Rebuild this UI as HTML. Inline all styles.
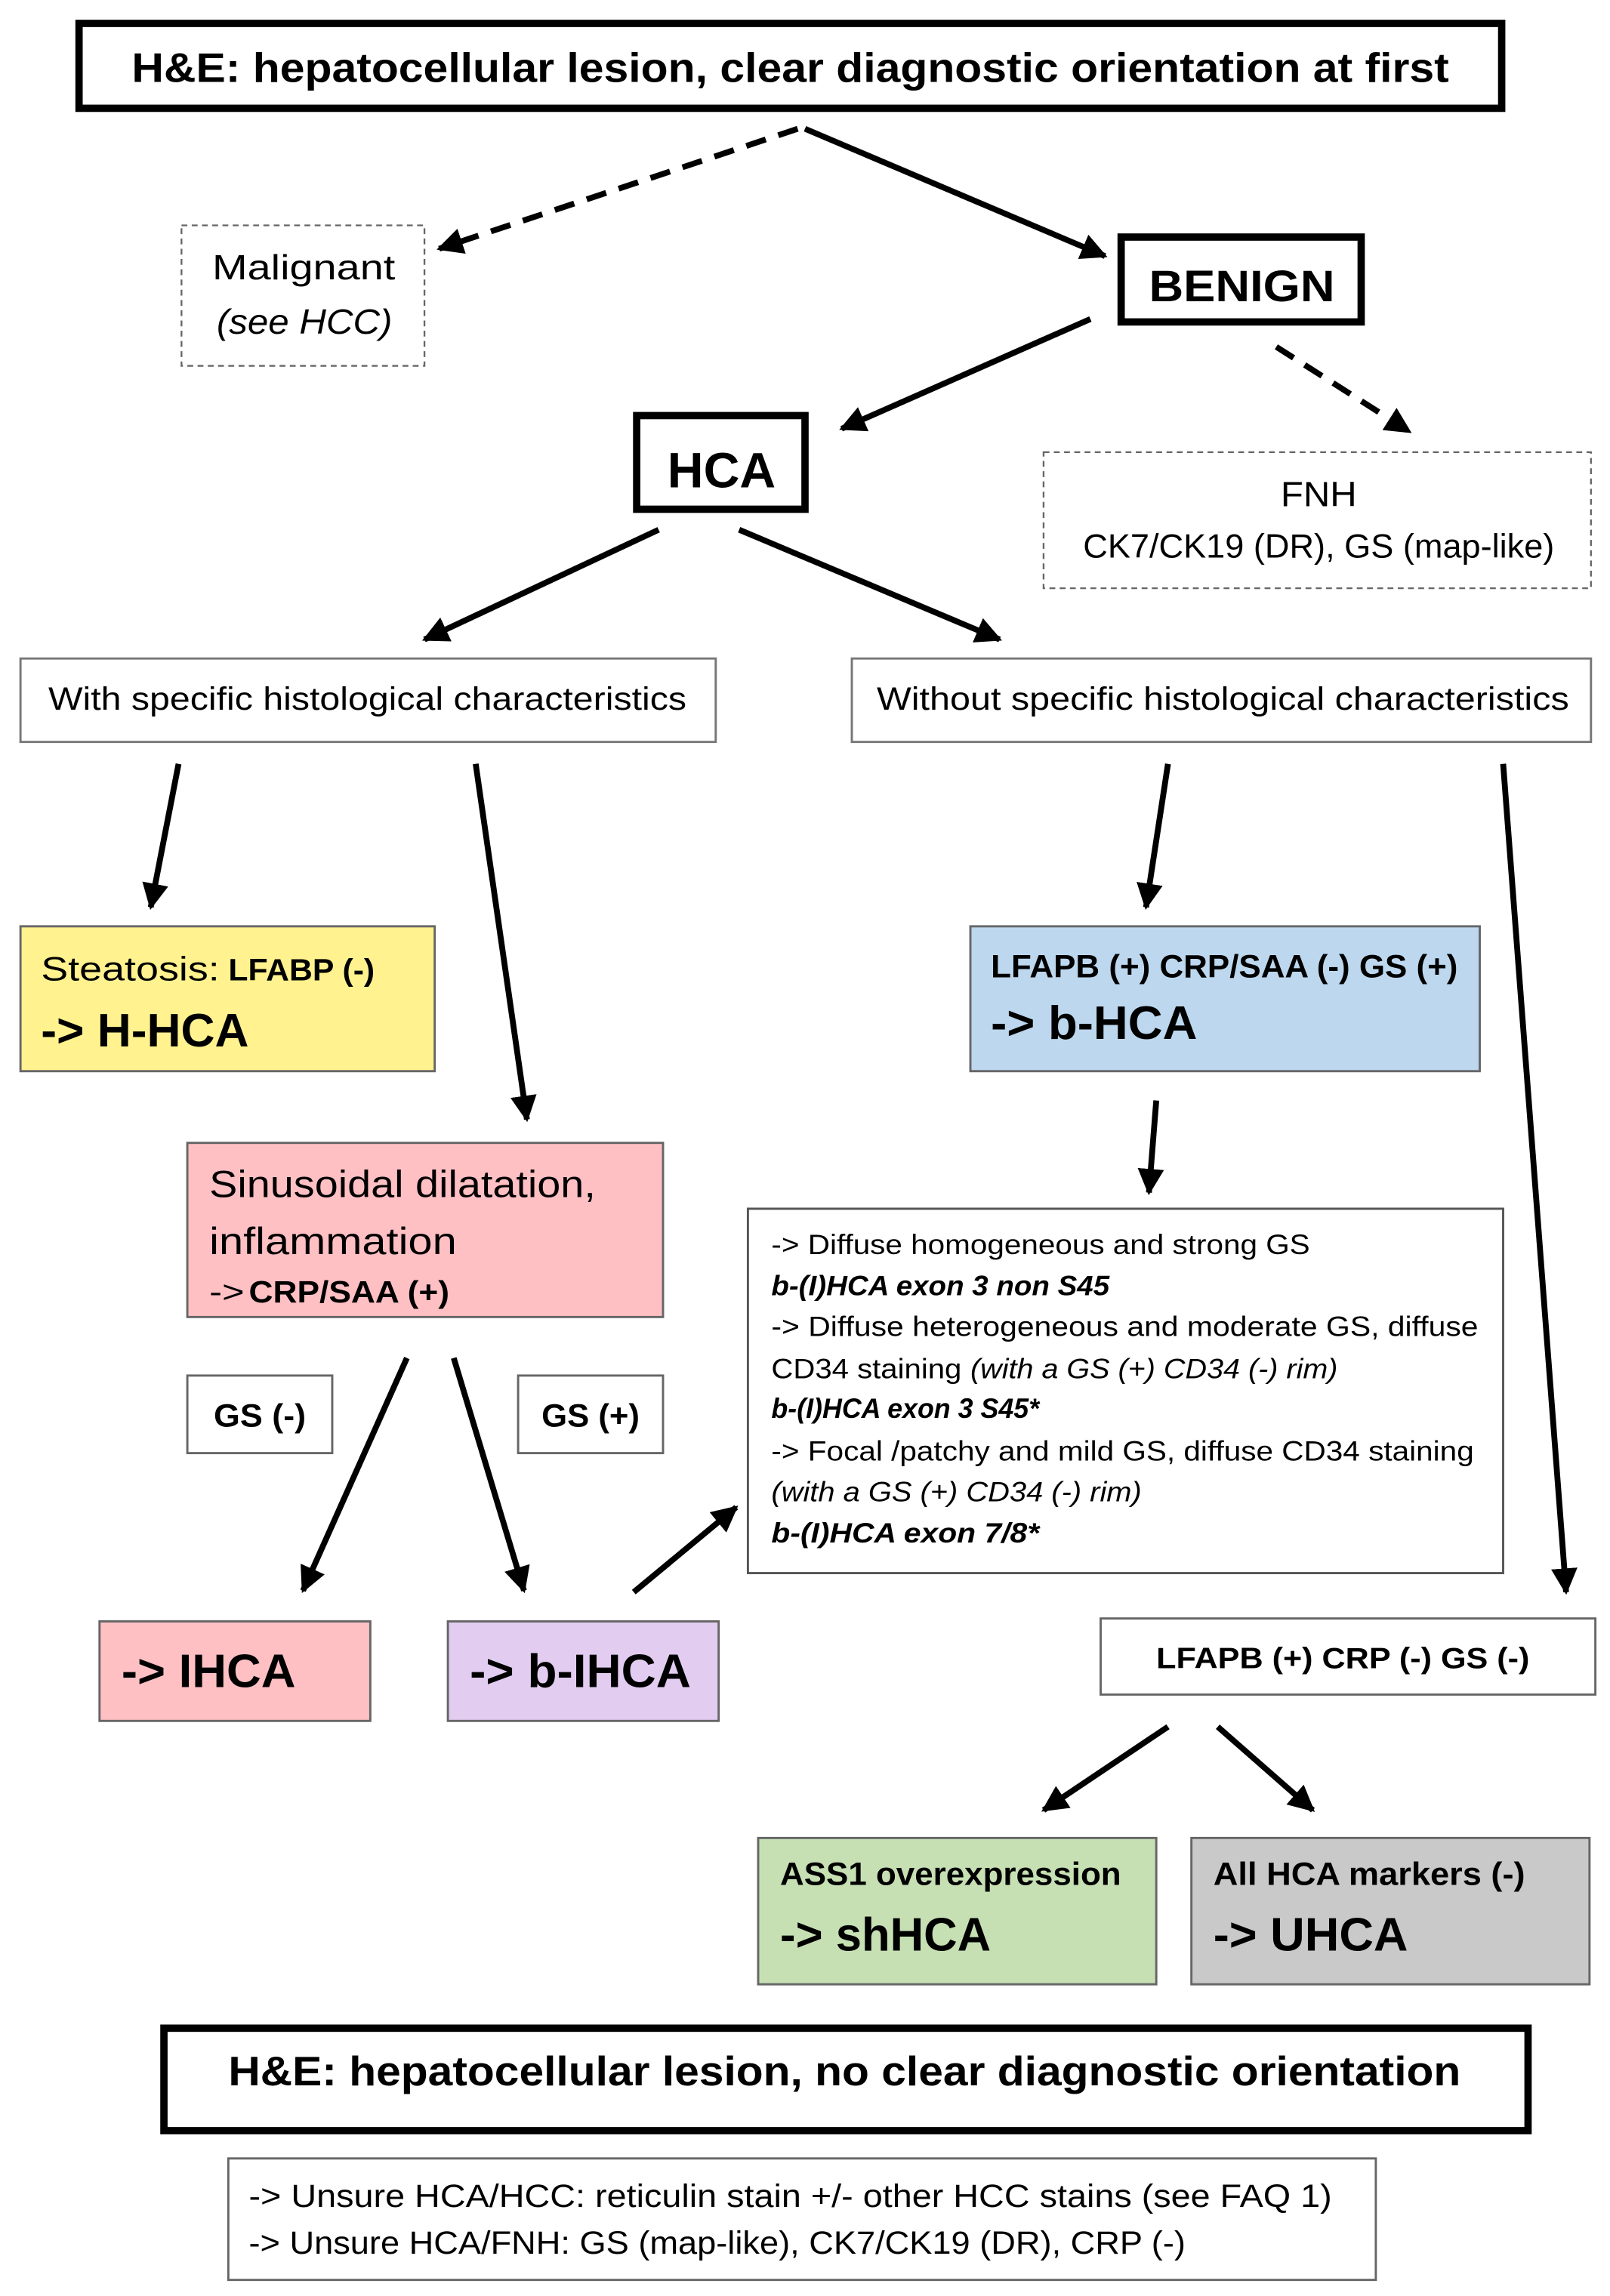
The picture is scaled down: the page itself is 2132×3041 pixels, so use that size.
<!DOCTYPE html>
<html><head><meta charset="utf-8"><style>
html,body{margin:0;padding:0;background:#fff}
svg{display:block}
text{font-family:"Liberation Sans",sans-serif;fill:#000}
.b{font-weight:bold}
.i{font-style:italic}
</style></head><body>
<svg width="2132" height="3041" viewBox="0 0 1100 1569" preserveAspectRatio="none" xmlns="http://www.w3.org/2000/svg">
<defs>
<marker id="a" viewBox="0 0 10 10" refX="9" refY="5" markerWidth="4.5" markerHeight="4.5" orient="auto" markerUnits="strokeWidth">
<path d="M0,0 L10,5 L0,10 z" fill="#000"/></marker>
</defs>
<rect width="1100" height="1569" fill="#fff"/>

<!-- boxes -->
<rect x="54" y="16" width="972" height="58" fill="#fff" stroke="#000" stroke-width="5"/>
<rect x="124" y="154" width="166" height="96" fill="#fff" stroke="#666" stroke-width="1.2" stroke-dasharray="4,3"/>
<rect x="766" y="162" width="164" height="58" fill="#fff" stroke="#000" stroke-width="5"/>
<rect x="435" y="284" width="115" height="64" fill="#fff" stroke="#000" stroke-width="5"/>
<rect x="713" y="309" width="374" height="93" fill="#fff" stroke="#666" stroke-width="1.2" stroke-dasharray="4,3"/>
<rect x="14" y="450" width="475" height="57" fill="#fff" stroke="#777" stroke-width="1.5"/>
<rect x="582" y="450" width="505" height="57" fill="#fff" stroke="#777" stroke-width="1.5"/>
<rect x="14" y="633" width="283" height="99" fill="#FFF28F" stroke="#666" stroke-width="1.5"/>
<rect x="663" y="633" width="348" height="99" fill="#BDD7EE" stroke="#666" stroke-width="1.5"/>
<rect x="128" y="781" width="325" height="119" fill="#FFC0C4" stroke="#666" stroke-width="1.5"/>
<rect x="128" y="940" width="99" height="53" fill="#fff" stroke="#666" stroke-width="1.5"/>
<rect x="354" y="940" width="99" height="53" fill="#fff" stroke="#666" stroke-width="1.5"/>
<rect x="511" y="826" width="516" height="249" fill="#fff" stroke="#555" stroke-width="1.5"/>
<rect x="68" y="1108" width="185" height="68" fill="#FFC0C4" stroke="#666" stroke-width="1.5"/>
<rect x="306" y="1108" width="185" height="68" fill="#E2CDF1" stroke="#666" stroke-width="1.5"/>
<rect x="752" y="1106" width="338" height="52" fill="#fff" stroke="#666" stroke-width="1.5"/>
<rect x="518" y="1256" width="272" height="100" fill="#C6E0B4" stroke="#666" stroke-width="1.5"/>
<rect x="814" y="1256" width="272" height="100" fill="#C9C9C9" stroke="#666" stroke-width="1.5"/>
<rect x="112" y="1386" width="932" height="70" fill="#fff" stroke="#000" stroke-width="5"/>
<rect x="156" y="1475" width="784" height="83" fill="#fff" stroke="#666" stroke-width="1.5"/>

<!-- arrows -->
<g stroke="#000" stroke-width="4" fill="none" marker-end="url(#a)">
<line x1="545" y1="88" x2="300" y2="170" stroke-dasharray="14,9"/>
<line x1="550" y1="88" x2="755" y2="175"/>
<line x1="745" y1="218" x2="575" y2="293"/>
<line x1="872" y1="237" x2="963" y2="295" stroke-dasharray="14,9"/>
<line x1="450" y1="362" x2="290" y2="437"/>
<line x1="505" y1="362" x2="683" y2="437"/>
<line x1="122" y1="522" x2="103" y2="620"/>
<line x1="325" y1="522" x2="360" y2="765"/>
<line x1="798" y1="522" x2="783" y2="620"/>
<line x1="1027" y1="522" x2="1070" y2="1088"/>
<line x1="790" y1="752" x2="785" y2="815"/>
<line x1="278" y1="928" x2="207" y2="1087"/>
<line x1="310" y1="928" x2="358" y2="1087"/>
<line x1="433" y1="1088" x2="503" y2="1030"/>
<line x1="798" y1="1180" x2="713" y2="1237"/>
<line x1="832" y1="1180" x2="897" y2="1237"/>
</g>

<!-- text -->
<text class="b" x="90" y="56" font-size="28" textLength="900" lengthAdjust="spacingAndGlyphs">H&amp;E: hepatocellular lesion, clear diagnostic orientation at first</text>
<text x="145" y="191" font-size="24" textLength="125" lengthAdjust="spacingAndGlyphs">Malignant</text>
<text class="i" x="148" y="228" font-size="24" textLength="120" lengthAdjust="spacingAndGlyphs">(see HCC)</text>
<text class="b" x="785" y="206" font-size="30" textLength="127" lengthAdjust="spacingAndGlyphs">BENIGN</text>
<text class="b" x="456" y="333" font-size="34" textLength="74" lengthAdjust="spacingAndGlyphs">HCA</text>
<text x="875" y="346" font-size="24" textLength="52" lengthAdjust="spacingAndGlyphs">FNH</text>
<text x="740" y="381" font-size="23" textLength="322" lengthAdjust="spacingAndGlyphs">CK7/CK19 (DR), GS (map-like)</text>
<text x="33" y="485" font-size="22" textLength="436" lengthAdjust="spacingAndGlyphs">With specific histological characteristics</text>
<text x="599" y="485" font-size="22" textLength="473" lengthAdjust="spacingAndGlyphs">Without specific histological characteristics</text>

<text x="28" y="670" font-size="23" textLength="122" lengthAdjust="spacingAndGlyphs">Steatosis:</text>
<text class="b" x="156" y="670" font-size="21" textLength="100" lengthAdjust="spacingAndGlyphs">LFABP (-)</text>
<text class="b" x="28" y="715" font-size="32" textLength="142" lengthAdjust="spacingAndGlyphs">-&gt; H-HCA</text>

<text class="b" x="677" y="668" font-size="22" textLength="319" lengthAdjust="spacingAndGlyphs">LFAPB (+) CRP/SAA (-) GS (+)</text>
<text class="b" x="677" y="710" font-size="32" textLength="141" lengthAdjust="spacingAndGlyphs">-&gt; b-HCA</text>

<text x="143" y="818" font-size="26" textLength="264" lengthAdjust="spacingAndGlyphs">Sinusoidal dilatation,</text>
<text x="143" y="857" font-size="26" textLength="169" lengthAdjust="spacingAndGlyphs">inflammation</text>
<text x="143" y="890" font-size="21" textLength="24" lengthAdjust="spacingAndGlyphs">-&gt;</text>
<text class="b" x="170" y="890" font-size="21" textLength="137" lengthAdjust="spacingAndGlyphs">CRP/SAA (+)</text>

<text class="b" x="146" y="975" font-size="22" textLength="63" lengthAdjust="spacingAndGlyphs">GS (-)</text>
<text class="b" x="370" y="975" font-size="22" textLength="67" lengthAdjust="spacingAndGlyphs">GS (+)</text>

<g font-size="19">
<text x="527" y="857" textLength="368" lengthAdjust="spacingAndGlyphs">-&gt; Diffuse homogeneous and strong GS</text>
<text class="b i" x="527" y="885" textLength="231" lengthAdjust="spacingAndGlyphs">b-(I)HCA exon 3 non S45</text>
<text x="527" y="913" textLength="483" lengthAdjust="spacingAndGlyphs">-&gt; Diffuse heterogeneous and moderate GS, diffuse</text>
<text x="527" y="942" textLength="130" lengthAdjust="spacingAndGlyphs">CD34 staining</text>
<text class="i" x="663" y="942" textLength="251" lengthAdjust="spacingAndGlyphs">(with a GS (+) CD34 (-) rim)</text>
<text class="b i" x="527" y="969" textLength="183" lengthAdjust="spacingAndGlyphs">b-(I)HCA exon 3 S45*</text>
<text x="527" y="998" textLength="480" lengthAdjust="spacingAndGlyphs">-&gt; Focal /patchy and mild GS, diffuse CD34 staining</text>
<text class="i" x="527" y="1026" textLength="253" lengthAdjust="spacingAndGlyphs">(with a GS (+) CD34 (-) rim)</text>
<text class="b i" x="527" y="1054" textLength="183" lengthAdjust="spacingAndGlyphs">b-(I)HCA exon 7/8*</text>
</g>

<text class="b" x="83" y="1153" font-size="32" textLength="119" lengthAdjust="spacingAndGlyphs">-&gt; IHCA</text>
<text class="b" x="321" y="1153" font-size="32" textLength="151" lengthAdjust="spacingAndGlyphs">-&gt; b-IHCA</text>
<text class="b" x="790" y="1140" font-size="20" textLength="255" lengthAdjust="spacingAndGlyphs">LFAPB (+) CRP (-) GS (-)</text>

<text class="b" x="533" y="1288" font-size="22" textLength="233" lengthAdjust="spacingAndGlyphs">ASS1 overexpression</text>
<text class="b" x="533" y="1333" font-size="32" textLength="144" lengthAdjust="spacingAndGlyphs">-&gt; shHCA</text>
<text class="b" x="829" y="1288" font-size="22" textLength="213" lengthAdjust="spacingAndGlyphs">All HCA markers (-)</text>
<text class="b" x="829" y="1333" font-size="32" textLength="133" lengthAdjust="spacingAndGlyphs">-&gt; UHCA</text>

<text class="b" x="156" y="1425" font-size="28" textLength="842" lengthAdjust="spacingAndGlyphs">H&amp;E: hepatocellular lesion, no clear diagnostic orientation</text>
<text x="170" y="1508" font-size="22" textLength="740" lengthAdjust="spacingAndGlyphs">-&gt; Unsure HCA/HCC: reticulin stain +/- other HCC stains (see FAQ 1)</text>
<text x="170" y="1540" font-size="22" textLength="640" lengthAdjust="spacingAndGlyphs">-&gt; Unsure HCA/FNH: GS (map-like), CK7/CK19 (DR), CRP (-)</text>
</svg>
</body></html>
